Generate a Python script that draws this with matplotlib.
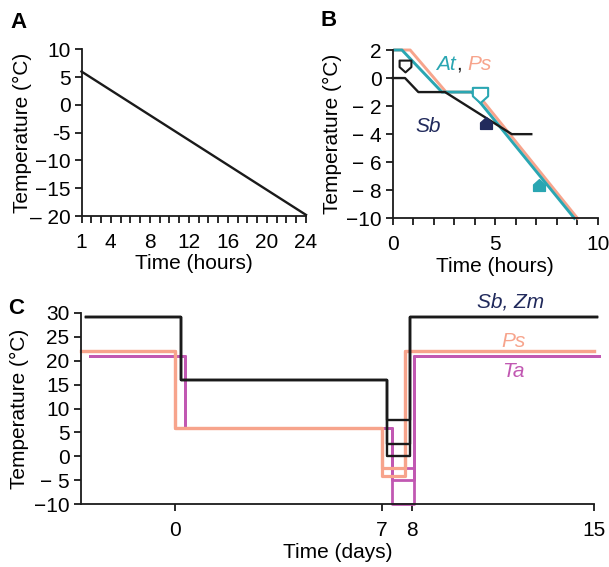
import matplotlib
matplotlib.use("Agg")
import matplotlib.pyplot as plt
import numpy as np
from matplotlib.path import Path

plt.rcParams['font.family'] = ['Liberation Sans', 'DejaVu Sans']
plt.rcParams['font.size'] = 15

# colours
BLACK = '#1a1a1a'
TEAL = '#2aa6b2'
SALMON = '#f7a48c'
NAVY = '#212a5c'
MAGENTA = '#c158b2'

# ---- panel A: linear cooling over 24 h
a_time = [1, 24]
a_temp = [6, -19.8]
a_xticks = [1, 4, 8, 12, 16, 20, 24]
a_yticks = [10, 5, 0, -5, -10, -15, -20]
a_ylabels = ['10', '5', '0', '-5', '\u221210', '\u221215', '\u2013 20']

# ---- panel B: freezing protocols (hours)
b_at_time = [0.1, 0.45, 2.4, 3.85, 8.85]
b_at_temp = [2, 2, -1, -1, -10]
b_ps_time = [0.1, 0.85, 2.6, 4.05, 9.0]
b_ps_temp = [2, 2, -1, -1, -10]
b_sb_time = [0, 0.6, 1.25, 2.55, 5.8, 6.75]
b_sb_temp = [0, 0, -1, -1, -4, -4]
b_yticks = [2, 0, -2, -4, -6, -8, -10]
b_ylabels = ['2', '0', '\u2212 2', '\u2212 4', '\u2212 6', '\u2212 8', '\u221210']
# markers: (time, temp) of sampling points
b_sb_open = (0.6, 0.85)
b_at_open = (4.25, -1.2)
b_sb_fill = (4.55, -3.2)
b_at_fill = (7.15, -7.6)

# ---- panel C: acclimation / freezing (days)
c_sb_time = [-3.05, 0.18, 7.17, 7.94, 15.1]
c_sb_warm, c_sb_cold = 29, 16
c_sb_freeze = [7.5, 2.5, 0]
c_ps_time = [-3.22, 0.0, 7.0, 7.78, 15.0]
c_ps_warm, c_ps_cold = 22, 6
c_ps_freeze = [-2.5, -4]
c_ta_time = [-2.9, 0.33, 7.33, 8.07, 15.2]
c_ta_warm, c_ta_cold = 21, 6
c_ta_freeze = [-2.5, -5, -10]
c_xticks = [0, 7, 8, 15]
c_yticks = [30, 25, 20, 15, 10, 5, 0, -5, -10]
c_ylabels = ['30', '25', '20', '15', '10', '5', '0', '\u2212 5', '\u221210']

# stretched day axis: the 7-8 day window is drawn wider
DAY_KNOTS = [-10, 0, 7, 8, 15, 30]
POS_KNOTS = [-295, 0, 206.7, 236.7, 419, 809]


def fwd(x):
    return np.interp(x, DAY_KNOTS, POS_KNOTS)


def inv(x):
    return np.interp(x, POS_KNOTS, DAY_KNOTS)


HOUSE_UP = Path([(-1, -1), (1, -1), (1, 0.1), (0, 1), (-1, 0.1), (-1, -1)],
                [1, 2, 2, 2, 2, 79])
HOUSE_DOWN = Path([(-1, 1), (1, 1), (1, -0.1), (0, -1), (-1, -0.1), (-1, 1)],
                  [1, 2, 2, 2, 2, 79])

W, H = 609, 567


def add_axes(fig, left, right, top, bottom):
    ax = fig.add_axes([left / W, (H - bottom) / H, (right - left) / W, (bottom - top) / H])
    for s in ['top', 'right']:
        ax.spines[s].set_visible(False)
    for s in ['left', 'bottom']:
        ax.spines[s].set_linewidth(1.3)
        ax.spines[s].set_color(BLACK)
    ax.tick_params(which='both', direction='out', width=1.3, color=BLACK, labelsize=15)
    ax.tick_params(axis='y', length=5, pad=3)
    ax.tick_params(axis='x', which='major', length=5, pad=7)
    ax.tick_params(axis='x', which='minor', length=5)
    return ax


def main():
    fig = plt.figure(figsize=(W / 100, H / 100), dpi=100)

    # A
    ax = add_axes(fig, 81.5, 306, 49.3, 216)
    ax.plot(a_time, a_temp, color=BLACK, linewidth=1.7, clip_on=False)
    ax.set_xlim(1, 24)
    ax.set_ylim(-20, 10)
    ax.set_xticks(a_xticks)
    ax.set_xticks(np.arange(1, 25), minor=True)
    ax.set_yticks(a_yticks)
    ax.set_yticklabels(a_ylabels)
    ax.set_xlabel('Time (hours)', labelpad=2)
    ax.set_ylabel('Temperature (\u00b0C)')
    ax.yaxis.set_label_coords(-0.22, 0.5)
    fig.text(10 / W, 1 - 22 / H, 'A', fontsize=16, fontweight='bold', va='center')

    # B
    ax = add_axes(fig, 392.7, 598, 50, 218.3)
    ax.plot(b_ps_time, b_ps_temp, color=SALMON, linewidth=2.1, clip_on=False)
    ax.plot(b_at_time, b_at_temp, color=TEAL, linewidth=2.1, clip_on=False)
    ax.plot(b_sb_time, b_sb_temp, color=BLACK, linewidth=1.7, clip_on=False)
    ax.plot(*b_sb_open, marker=HOUSE_DOWN, markersize=8.5, mfc='white',
            mec=BLACK, mew=1.5, linestyle='none')
    ax.plot(*b_at_open, marker=HOUSE_DOWN, markersize=11, mfc='white',
            mec=TEAL, mew=1.5, linestyle='none')
    ax.plot(*b_sb_fill, marker=HOUSE_UP, markersize=8.5, mfc=NAVY,
            mec=NAVY, mew=1, linestyle='none')
    ax.plot(*b_at_fill, marker=HOUSE_UP, markersize=8.5, mfc=TEAL,
            mec=TEAL, mew=1, linestyle='none')
    ax.text(2.09, 1.0, 'At', color=TEAL, style='italic', fontsize=15, va='center')
    ax.text(3.1, 1.0, ',', color=BLACK, fontsize=15, va='center')
    ax.text(3.62, 1.0, 'Ps', color=SALMON, style='italic', fontsize=15, va='center')
    ax.text(1.13, -3.45, 'Sb', color=NAVY, style='italic', fontsize=15, va='center')
    ax.set_xlim(0, 10)
    ax.set_ylim(-10, 2)
    ax.set_xticks([0, 5, 10])
    ax.set_xticks(np.arange(0, 11), minor=True)
    ax.set_yticks(b_yticks)
    ax.set_yticklabels(b_ylabels)
    ax.set_xlabel('Time (hours)', labelpad=2)
    ax.set_ylabel('Temperature (\u00b0C)')
    ax.yaxis.set_label_coords(-0.245, 0.5)
    fig.text(320 / W, 1 - 21 / H, 'B', fontsize=16, fontweight='bold', va='center')

    # C
    ax = add_axes(fig, 80.6, 594, 312.7, 504.3)
    ax.set_xscale('function', functions=(fwd, inv))
    for f in c_ta_freeze:
        lv = [c_ta_warm, c_ta_cold, f, c_ta_warm, c_ta_warm]
        ax.step(c_ta_time, lv, where='post', color=MAGENTA, linewidth=2.0, clip_on=False)
    for f in c_ps_freeze:
        lv = [c_ps_warm, c_ps_cold, f, c_ps_warm, c_ps_warm]
        ax.step(c_ps_time, lv, where='post', color=SALMON, linewidth=2.3, clip_on=False)
    for f in c_sb_freeze:
        lv = [c_sb_warm, c_sb_cold, f, c_sb_warm, c_sb_warm]
        ax.step(c_sb_time, lv, where='post', color=BLACK, linewidth=1.7, clip_on=False)
    ax.text(10.5, 32.3, 'Sb, Zm', color=NAVY, style='italic', fontsize=15, va='center')
    ax.text(11.45, 23.9, 'Ps', color=SALMON, style='italic', fontsize=15, va='center')
    ax.text(11.45, 17.7, 'Ta', color=MAGENTA, style='italic', fontsize=15, va='center')
    ax.set_xlim(-3.22, 15)
    ax.set_ylim(-10, 30)
    ax.set_xticks(c_xticks)
    ax.set_xticklabels([str(t) for t in c_xticks])
    ax.xaxis.set_minor_locator(matplotlib.ticker.NullLocator())
    ax.set_yticks(c_yticks)
    ax.set_yticklabels(c_ylabels)
    ax.set_xlabel('Time (days)', labelpad=2)
    ax.set_ylabel('Temperature (\u00b0C)')
    ax.yaxis.set_label_coords(-0.1, 0.5)
    fig.text(8 / W, 1 - 308 / H, 'C', fontsize=16, fontweight='bold', va='center')

    fig.savefig('out.png', dpi=100)


if __name__ == "__main__":
    main()
